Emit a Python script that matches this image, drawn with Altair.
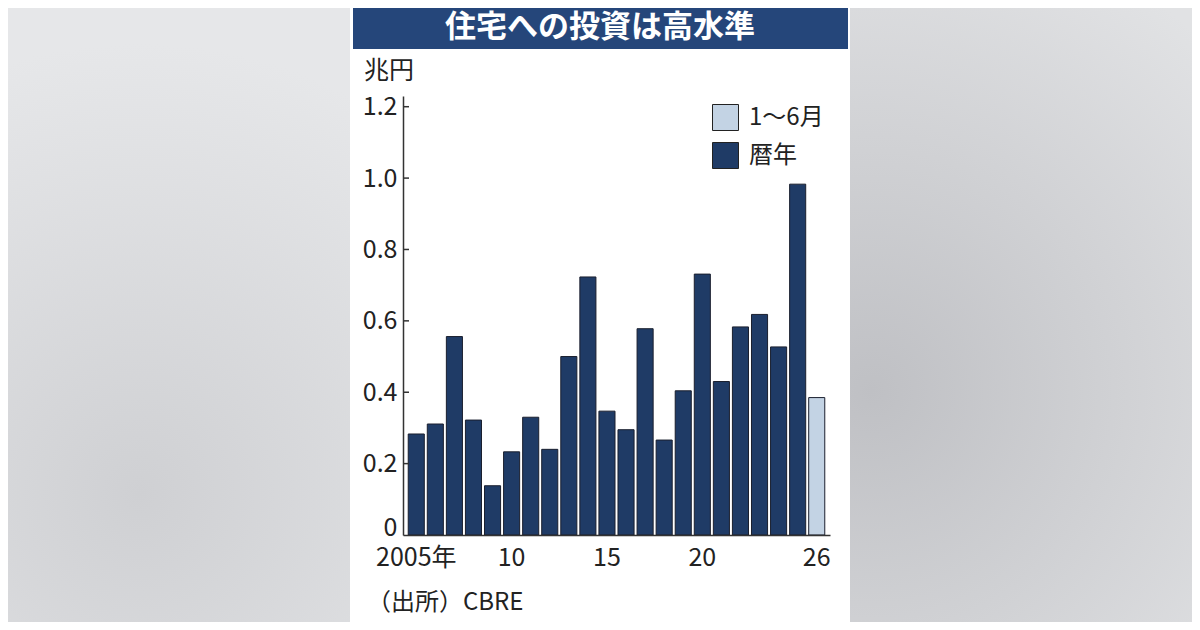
import altair as alt
import pandas as pd

years = list(range(2005, 2027))
values = [0.283, 0.311, 0.556, 0.322, 0.138, 0.233, 0.330, 0.240, 0.500, 0.723,
          0.347, 0.295, 0.578, 0.266, 0.404, 0.731, 0.430, 0.583, 0.618, 0.527,
          0.983, 0.385]
kinds = ["暦年"] * 21 + ["1〜6月"]
kind_domain = ["1〜6月", "暦年"]
kind_colors = ["#c3d3e4", "#1f3b66"]
y_ticks = [0, 0.2, 0.4, 0.6, 0.8, 1.0, 1.2]

title_text = "住宅への投資は高水準"
unit_text = "兆円"
source_text = "（出所）CBRE"

df = pd.DataFrame({"year": years, "value": values, "kind": kinds})
tick_df = pd.DataFrame({"v": [t for t in y_ticks if t > 0]})

NUM_FONT = "Noto Sans CJK JP"
JP_FONT = "Noto Sans CJK JP"

ymax = 1.23
yscale = alt.Scale(domain=[0, ymax], nice=False)

one = pd.DataFrame({"a": [0]})

# blurred grey backdrop on both sides
right_bg = alt.Chart(one).mark_rect(
    color=alt.RadialGradient(gradient="radial", x1=0.26, y1=0.62, r1=0, x2=0.26, y2=0.62, r2=0.75,
                             stops=[alt.GradientStop(offset=0, color="#bfc0c4"),
                                    alt.GradientStop(offset=1, color="#e1e2e4")])
).encode(x=alt.value(447), x2=alt.value(800), y=alt.value(-104), y2=alt.value(540))
left_bg = alt.Chart(one).mark_rect(
    color=alt.RadialGradient(gradient="radial", x1=0.45, y1=0.78, r1=0, x2=0.45, y2=0.78, r2=0.7,
                             stops=[alt.GradientStop(offset=0, color="#cfd0d3"),
                                    alt.GradientStop(offset=1, color="#e6e7e9")])
).encode(x=alt.value(-410), x2=alt.value(-53), y=alt.value(-104), y2=alt.value(540))

# panel background (white) and title bar
panel = alt.Chart(one).mark_rect(color="white").encode(
    x=alt.value(-53), x2=alt.value(447), y=alt.value(-100), y2=alt.value(540)
)
title_bar = alt.Chart(one).mark_rect(color="#25467a").encode(
    x=alt.value(-50), x2=alt.value(445), y=alt.value(-88), y2=alt.value(-47)
)
title = alt.Chart(pd.DataFrame({"t": [title_text]})).mark_text(
    font=JP_FONT, fontSize=31, fontWeight="bold", color="white",
    align="center", baseline="middle"
).encode(text="t:N", x=alt.value(197), y=alt.value(-68))

unit = alt.Chart(pd.DataFrame({"t": [unit_text]})).mark_text(
    font=JP_FONT, fontSize=25, color="#222", align="left", baseline="middle"
).encode(text="t:N", x=alt.value(-39), y=alt.value(-25))

source = alt.Chart(pd.DataFrame({"t": [source_text]})).mark_text(
    font=JP_FONT, fontSize=24, color="#222", align="left", baseline="middle"
).encode(text="t:N", x=alt.value(-36), y=alt.value(507))

label_expr = ("datum.value == 2005 ? '2005年' : (indexof([2010,2015,2020,2026], datum.value) >= 0 ? "
              "substring(toString(datum.value), 2) : '')")

bars = alt.Chart(df).mark_bar(stroke="#1a1f2e", strokeWidth=1, opacity=1).encode(
    x=alt.X("year:O", title=None,
            scale=alt.Scale(paddingInner=0.157, paddingOuter=0.274),
            axis=alt.Axis(labelExpr=label_expr, labelAngle=0, ticks=False, tickSize=0,
                          labelFont=NUM_FONT, labelFontSize=25, labelColor="#222",
                          labelPadding=10, domainColor="#333", domainWidth=1.5,
                          labelOverlap=False, zindex=2)),
    y=alt.Y("value:Q", title=None, scale=yscale,
            axis=alt.Axis(values=y_ticks, grid=False, ticks=False, tickSize=0,
                          labelExpr="datum.value == 0 ? '0' : format(datum.value, '.1f')",
                          labelBaseline={"condition": {"test": "datum.value === 0", "value": "alphabetic"},
                                         "value": "middle"},
                          labelFont=NUM_FONT, labelFontSize=25, labelColor="#222",
                          labelPadding=6, domainColor="#333", domainWidth=1.5, zindex=2)),
    color=alt.Color("kind:N", scale=alt.Scale(domain=kind_domain, range=kind_colors),
                    legend=alt.Legend(title=None, orient="none", legendX=309, legendY=8,
                                      symbolType="square", symbolSize=676,
                                      symbolStrokeColor="#222", symbolStrokeWidth=1,
                                      symbolOpacity=1, zindex=2,
                                      labelFont=JP_FONT, labelFontSize=24, labelColor="#222",
                                      labelOffset=10, rowPadding=7, padding=0)),
)

yticks = alt.Chart(tick_df).mark_rule(color="#333", strokeWidth=1.5).encode(
    y=alt.Y("v:Q", scale=yscale), x=alt.value(0), x2=alt.value(6)
)

chart = alt.layer(left_bg, right_bg, panel, title_bar, title, unit, source, bars, yticks).properties(
    width=427, height=439,
    padding={"left": 395, "top": 88, "right": 362, "bottom": 87},
    autosize=alt.AutoSizeParams(type="none"),
    background="#e3e4e6",
).configure_view(stroke=None)

chart.save("out.html", embed_options={"renderer": "svg", "actions": False})
